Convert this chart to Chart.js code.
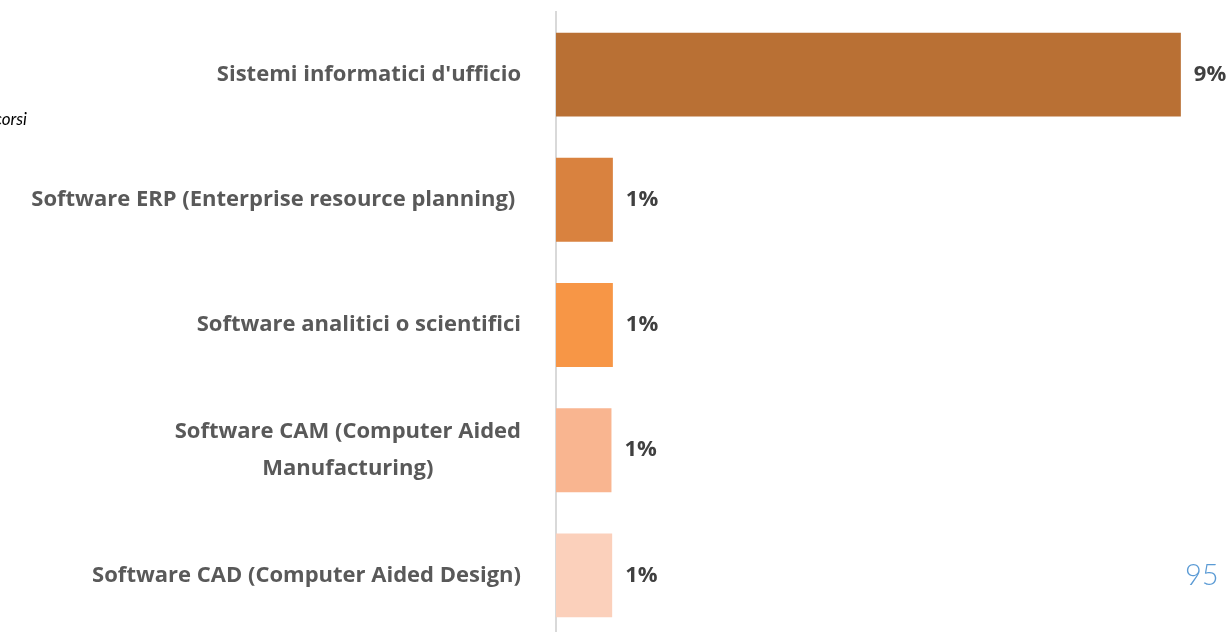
<!DOCTYPE html>
<html>
<head>
<meta charset="utf-8">
<script src="https://cdn.jsdelivr.net/npm/chart.js@4"></script>
<style>
  html, body { margin: 0; padding: 0; background: #fff; overflow: hidden; width: 1230px; height: 632px; }
  #wrap { position: absolute; left: 0; top: 0; width: 1230px; height: 640px; }
  #note { position: absolute; right: 1203px; top: 108px; font: italic 17px Lato, "Open Sans", sans-serif; color: #000; white-space: nowrap; }
  #page { position: absolute; left: 1185px; top: 556px; font: 300 29px Lato, "Open Sans", sans-serif; color: #5b9bd5; }
</style>
</head>
<body>
<div id="wrap"><canvas id="bars"></canvas></div>
<div id="note">percorsi</div>
<div id="page">95</div>
<script>
const categories = [
  "Sistemi informatici d'ufficio",
  "Software ERP (Enterprise resource planning) ",
  "Software analitici o scientifici",
  ["Software CAM (Computer Aided", "Manufacturing)"],
  "Software CAD (Computer Aided Design)"
];
const values = [8.9, 0.81, 0.81, 0.79, 0.8];
const barColors = ["#b97034", "#d9823f", "#f79646", "#f9b590", "#fbd0bb"];

// category labels + value labels, placed from the chart's own scales
const labelPlugin = {
  id: "labels",
  afterDatasetsDraw(chart) {
    const ctx = chart.ctx;
    const yScale = chart.scales.y;
    const meta = chart.getDatasetMeta(0);
    const right = chart.chartArea.left - 35;
    ctx.save();
    ctx.textBaseline = "middle";
    ctx.font = "bold 22px 'Open Sans', sans-serif";
    ctx.fillStyle = "#595959";
    categories.forEach((cat, i) => {
      const lines = Array.isArray(cat) ? cat : [cat];
      const yc = yScale.getPixelForValue(i);
      const lh = 37;
      const w = Math.max(...lines.map(l => ctx.measureText(l).width));
      const cx = right - w / 2;
      ctx.textAlign = "center";
      lines.forEach((l, k) => {
        ctx.fillText(l, cx, yc + (k - (lines.length - 1) / 2) * lh);
      });
    });
    ctx.fillStyle = "#404040";
    ctx.textAlign = "left";
    meta.data.forEach((bar, i) => {
      ctx.fillText(Math.round(values[i]) + "%", bar.x + 13, bar.y);
    });
    ctx.restore();
  }
};

new Chart(document.getElementById("bars"), {
  type: "bar",
  data: {
    labels: categories,
    datasets: [{
      data: values,
      backgroundColor: barColors,
      categoryPercentage: 1,
      barPercentage: 0.67
    }]
  },
  options: {
    indexAxis: "y",
    responsive: true,
    maintainAspectRatio: false,
    animation: false,
    layout: { padding: { left: 548, right: 0, top: 12, bottom: 2 } },
    scales: {
      x: { display: false, min: 0, max: 9.6 },
      y: {
        grid: { display: false },
        ticks: { display: false },
        border: { display: true, color: "#d9d9d9", width: 2 }
      }
    },
    plugins: {
      legend: { display: false },
      tooltip: { enabled: false }
    }
  },
  plugins: [labelPlugin]
});
</script>
</body>
</html>
